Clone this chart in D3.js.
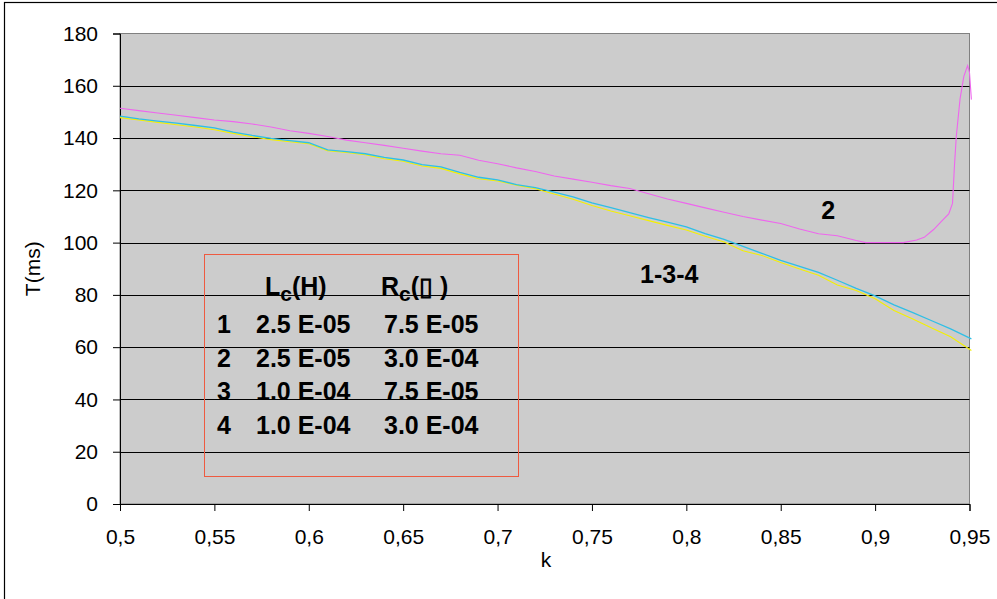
<!DOCTYPE html>
<html>
<head>
<meta charset="utf-8">
<script src="https://cdn.jsdelivr.net/npm/d3@7"></script>
<style>
  body { margin: 0; background: #fff; }
  text { font-family: "Liberation Sans", Arial, sans-serif; }
</style>
</head>
<body>
<div id="container"></div>
<script>
// k values and T(ms)
const kCyan = [0.50,0.51,0.52,0.53,0.54,0.55,0.56,0.57,0.58,0.59,0.60,0.61,0.62,0.63,0.64,0.65,0.66,0.67,0.68,0.69,
  0.70,0.71,0.72,0.73,0.74,0.75,0.76,0.77,0.78,0.79,0.80,0.81,0.82,0.83,0.84,0.85,0.86,0.87,0.88,0.89,
  0.90,0.91,0.92,0.93,0.94,0.951];
const tCyan = [148.4,147.3,146.5,145.7,144.8,143.9,142.3,141.0,139.9,139.0,138.2,135.5,134.8,134.0,132.6,131.6,129.8,129.0,126.9,125.0,
  124.0,122.2,121.0,119.3,117.5,115.2,113.4,111.5,109.6,107.8,106.0,103.4,101.2,98.6,95.9,93.2,90.9,88.6,85.6,82.5,
  79.6,76.2,73.2,70.1,67.0,63.2];

const kYellow = kCyan;
const tYellow = [147.8,146.9,146.0,145.1,144.2,143.2,141.8,140.5,139.4,138.6,137.8,135.2,134.5,133.6,132.1,131.1,129.3,128.4,126.3,124.4,
  123.6,122.0,120.6,118.6,116.6,114.2,112.1,110.3,108.4,106.6,104.8,102.4,100.2,96.9,95.1,92.4,89.9,87.5,83.8,81.7,
  78.5,74.0,70.8,67.3,64.0,58.7];

const kMagenta = [0.50,0.51,0.52,0.53,0.54,0.55,0.56,0.57,0.58,0.59,0.60,0.61,0.62,0.63,0.64,0.65,0.66,0.67,0.68,0.69,
  0.70,0.71,0.72,0.73,0.74,0.75,0.76,0.77,0.78,0.79,0.80,0.81,0.82,0.83,0.84,0.85,0.86,0.87,0.88,0.89,
  0.895,0.905,0.915,0.922,0.926,0.931,0.935,0.939,0.941,0.942,0.943,0.945,0.947,0.949,0.950,0.951];
const tMagenta = [151.4,150.5,149.6,148.7,147.8,146.9,146.3,145.4,144.2,142.8,141.8,140.6,139.2,138.2,137.2,136.1,135.0,134.0,133.4,131.5,
  130.2,128.6,127.2,125.5,124.3,123.1,121.8,120.7,118.7,116.7,115.0,113.3,111.6,110.0,108.6,107.3,105.2,103.4,102.6,100.8,
  100.0,100.0,100.0,101.0,102.0,105.0,108.0,111.0,115.0,129.0,140.6,155.0,163.6,167.7,165.0,154.7];

const xTicks = [0.5,0.55,0.6,0.65,0.7,0.75,0.8,0.85,0.9,0.95];
const yTicks = [0,20,40,60,80,100,120,140,160,180];

const curveLabels = [
  { text: "2", k: 0.8715, t: 109 },
  { text: "1-3-4", k: 0.7755, t: 84.5 }
];

const legendHead = ["L", "R"];
const legendRows = [
  ["1", "2.5 E-05", "7.5 E-05"],
  ["2", "2.5 E-05", "3.0 E-04"],
  ["3", "1.0 E-04", "7.5 E-05"],
  ["4", "1.0 E-04", "3.0 E-04"]
];

// chart size
const chartWidth = 997, chartHeight = 599;
const plotLeft = 120, plotRight = 969.5, plotTop = 33.5, plotBottom = 504;

const svg = d3.select('#container')
  .append('svg')
  .attr('width', chartWidth)
  .attr('height', chartHeight);

// outer frame
svg.append('rect')
  .attr('x', 4.5).attr('y', 2.5)
  .attr('width', 1000).attr('height', 610)
  .attr('fill', '#fff')
  .attr('stroke', '#000')
  .attr('stroke-width', 1.2);

const x = d3.scaleLinear().domain([0.5, 0.95]).range([plotLeft, plotRight]);
const y = d3.scaleLinear().domain([0, 180]).range([plotBottom, plotTop]);

// plot area
svg.append('rect')
  .attr('x', plotLeft).attr('y', plotTop)
  .attr('width', plotRight - plotLeft).attr('height', plotBottom - plotTop)
  .attr('fill', '#cccccc')
  .attr('stroke', '#808080')
  .attr('stroke-width', 1);

// grid lines
svg.append('g')
  .selectAll('line')
  .data(yTicks.filter(d => d > 0 && d < 180))
  .enter()
  .append('line')
  .attr('x1', plotLeft).attr('x2', plotRight)
  .attr('y1', d => Math.round(y(d)) + 0.5)
  .attr('y2', d => Math.round(y(d)) + 0.5)
  .attr('stroke', '#000')
  .attr('stroke-width', 1);

// axes
const yAxis = d3.axisLeft(y).tickValues(yTicks).tickSize(7).tickPadding(15);
const gy = svg.append('g')
  .attr('transform', 'translate(' + plotLeft + ',0)')
  .call(yAxis);

const xAxis = d3.axisBottom(x)
  .tickValues(xTicks)
  .tickSize(7)
  .tickPadding(18)
  .tickFormat(d => String(+d.toFixed(2)).replace('.', ','));
const gx = svg.append('g')
  .attr('transform', 'translate(0,' + plotBottom + ')')
  .call(xAxis);

[gx, gy].forEach(g => {
  g.select('.domain').attr('stroke', '#000');
  g.selectAll('.tick line').attr('stroke', '#000');
  g.selectAll('.tick text')
    .attr('fill', '#000')
    .style('font-size', '21px')
    .style('font-family', '"Liberation Sans", Arial, sans-serif');
});

// axis titles
svg.append('text')
  .attr('transform', 'translate(40,' + ((plotTop + plotBottom) / 2) + ') rotate(-90)')
  .attr('text-anchor', 'middle')
  .style('font-size', '21px')
  .text('T(ms)');

svg.append('text')
  .attr('x', 546).attr('y', 567)
  .attr('text-anchor', 'middle')
  .style('font-size', '21px')
  .text('k');

// legend box
const lg = svg.append('g');
lg.append('rect')
  .attr('x', 204.5).attr('y', 254.5)
  .attr('width', 314).attr('height', 222)
  .attr('fill', 'none')
  .attr('stroke', '#ee5a40')
  .attr('stroke-width', 1);

const headX = [265, 381];
const headTail = ["(H)", "(\u25AF )"];
legendHead.forEach((h, i) => {
  const t = lg.append('text')
    .attr('x', headX[i]).attr('y', 295)
    .style('font-size', '25px')
    .style('font-weight', 'bold');
  t.append('tspan').text(h);
  t.append('tspan').attr('dy', 6).style('font-size', '21px').text('c');
  t.append('tspan').attr('dy', -6).text(headTail[i]);
});

const rowY = [333, 367, 400, 434];
const colX = [217, 256, 384];
legendRows.forEach((row, r) => {
  row.forEach((cell, c) => {
    lg.append('text')
      .attr('x', colX[c]).attr('y', rowY[r])
      .style('font-size', '25px')
      .style('font-weight', 'bold')
      .text(cell);
  });
});

// curves
const line = d3.line()
  .x(d => x(d[0]))
  .y(d => y(d[1]));

const series = [
  { k: kYellow, t: tYellow, color: '#f4f000', w: 1.1 },
  { k: kCyan, t: tCyan, color: '#2fbfe6', w: 1.3 },
  { k: kMagenta, t: tMagenta, color: '#ee66ee', w: 1.1 }
];

svg.append('g')
  .selectAll('path')
  .data(series)
  .enter()
  .append('path')
  .attr('d', s => line(s.k.map((k, i) => [k, s.t[i]])))
  .attr('fill', 'none')
  .attr('stroke', s => s.color)
  .attr('stroke-width', s => s.w);

// curve labels
svg.append('g')
  .selectAll('text')
  .data(curveLabels)
  .enter()
  .append('text')
  .attr('x', d => x(d.k))
  .attr('y', d => y(d.t))
  .style('font-size', '25px')
  .style('font-weight', 'bold')
  .text(d => d.text);
</script>
</body>
</html>
